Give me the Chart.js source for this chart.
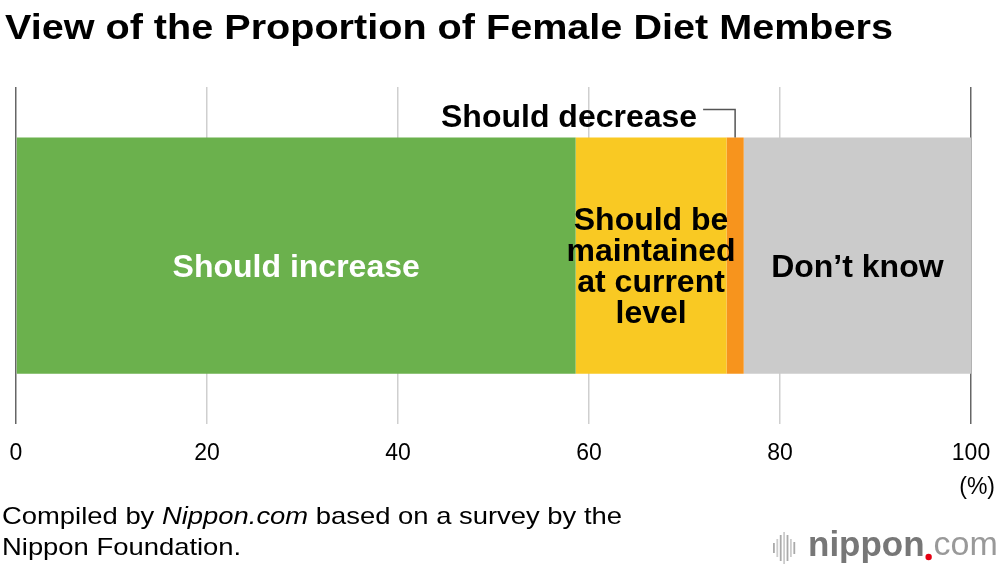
<!DOCTYPE html>
<html>
<head>
<meta charset="utf-8">
<script src="https://cdn.jsdelivr.net/npm/chart.js@4"></script>
<style>
  html, body { margin: 0; padding: 0; background: #fff; }
  #wrap { width: 1000px; height: 570px; position: relative; }
</style>
</head>
<body>
<div id="wrap"><canvas id="chart" width="1000" height="570"></canvas></div>
<script>
// survey answers, percent of respondents
const categories = ["Should increase", "Should be maintained at current level", "Should decrease", "Don\u2019t know"];
const values = [58.6, 15.8, 1.8, 23.8];
const colors = ["#6bb14d", "#f9c923", "#f7941d", "#cbcbcb"];
const tickValues = [0, 20, 40, 60, 80, 100];

const FONT = "'Liberation Sans', Arial, Helvetica, sans-serif";

// draw left-aligned text stretched to a given width
function fitText(ctx, parts, x, y, width) {
  let total = 0;
  parts.forEach(p => { ctx.font = p.font; total += ctx.measureText(p.text).width; });
  const sx = width / total;
  ctx.save();
  ctx.translate(x, y);
  ctx.scale(sx, 1);
  let cx = 0;
  parts.forEach(p => {
    ctx.font = p.font;
    ctx.fillText(p.text, cx, 0);
    cx += ctx.measureText(p.text).width;
  });
  ctx.restore();
  return sx;
}

const overlay = {
  id: "overlay",
  afterDatasetsDraw(chart) {
    const ctx = chart.ctx;
    const bars = chart.data.datasets.map((d, i) => chart.getDatasetMeta(i).data[0]);
    ctx.save();
    ctx.textAlign = "center";
    ctx.textBaseline = "middle";
    const dy = 12;

    // Should increase
    let b = bars[0];
    ctx.fillStyle = "#fff";
    ctx.font = "bold 32px " + FONT;
    ctx.fillText("Should increase", (b.base + b.x) / 2, b.y + dy);

    // Should be maintained
    b = bars[1];
    ctx.fillStyle = "#000";
    const lines = ["Should be", "maintained", "at current", "level"];
    lines.forEach((t, k) => ctx.fillText(t, (b.base + b.x) / 2, b.y + dy + (k - 1.5) * 31));

    // Don't know
    b = bars[3];
    ctx.fillText("Don\u2019t know", (b.base + b.x) / 2, b.y + dy);

    // Should decrease with leader line
    b = bars[2];
    const cx = (b.base + b.x) / 2;
    const top = b.y - b.height / 2;
    ctx.strokeStyle = "#555";
    ctx.lineWidth = 1.5;
    ctx.beginPath();
    ctx.moveTo(cx - 32, top - 28);
    ctx.lineTo(cx, top - 28);
    ctx.lineTo(cx, top);
    ctx.stroke();
    ctx.textAlign = "right";
    ctx.fillText("Should decrease", cx - 38, top - 19);
    ctx.restore();
  },
  afterDraw(chart) {
    const ctx = chart.ctx;
    ctx.save();
    ctx.fillStyle = "#000";
    ctx.textBaseline = "middle";
    ctx.textAlign = "left";

    fitText(ctx, [{ text: "View of the Proportion of Female Diet Members", font: "bold 35px " + FONT }], 5, 29, 888);

    ctx.font = "23px " + FONT;
    ctx.textAlign = "right";
    ctx.fillText("(%)", 995, 488);

    // source note
    ctx.textAlign = "left";
    const reg = "24px " + FONT;
    const sx = fitText(ctx, [
      { text: "Compiled by ", font: reg },
      { text: "Nippon.com", font: "italic 24px " + FONT },
      { text: " based on a survey by the", font: reg }
    ], 2, 517, 620);
    ctx.save();
    ctx.translate(2, 548);
    ctx.scale(sx, 1);
    ctx.font = reg;
    ctx.fillText("Nippon Foundation.", 0, 0);
    ctx.restore();

    // logo
    const hs = [10, 18, 26, 32, 26, 18, 12];
    hs.forEach((h, k) => {
      ctx.fillStyle = k % 2 ? "#ccc" : "#aaa";
      ctx.fillRect(773 + k * 3.4, 548 - h / 2, 1.8, h);
    });
    let lx = 808;
    ctx.fillStyle = "#777";
    ctx.font = "bold 35px " + FONT;
    ctx.fillText("nippon", lx, 546);
    lx += ctx.measureText("nippon").width + 1;
    ctx.fillStyle = "#e60012";
    ctx.beginPath();
    ctx.arc(lx + 3, 557, 3.2, 0, Math.PI * 2);
    ctx.fill();
    lx += 8;
    ctx.fillStyle = "#999";
    ctx.font = "34px " + FONT;
    ctx.fillText("com", lx, 546);
    ctx.restore();
  }
};

new Chart(document.getElementById("chart"), {
  type: "bar",
  data: {
    labels: [""],
    datasets: categories.map((c, i) => ({
      label: c,
      data: [values[i]],
      backgroundColor: colors[i],
      borderWidth: 0,
      categoryPercentage: 1,
      barPercentage: 0.70
    }))
  },
  options: {
    indexAxis: "y",
    responsive: false,
    animation: false,
    events: [],
    layout: { padding: { left: 16, right: 29, top: 87, bottom: 88 } },
    plugins: { legend: { display: false }, tooltip: { enabled: false } },
    scales: {
      x: {
        stacked: true,
        min: 0,
        max: 100,
        border: { display: false },
        grid: {
          drawTicks: false,
          lineWidth: 1.5,
          color: (c) => (c.tick && (c.tick.value === 0 || c.tick.value === 100)) ? "#666" : "#cfcfcf"
        },
        afterBuildTicks: (axis) => { axis.ticks = tickValues.map(v => ({ value: v })); },
        afterFit: (axis) => { axis.paddingLeft = 0; axis.paddingRight = 0; },
        ticks: {
          padding: 15,
          maxRotation: 0,
          color: "#000",
          font: { family: FONT, size: 23 }
        }
      },
      y: {
        stacked: true,
        display: false
      }
    }
  },
  plugins: [overlay]
});
</script>
</body>
</html>
